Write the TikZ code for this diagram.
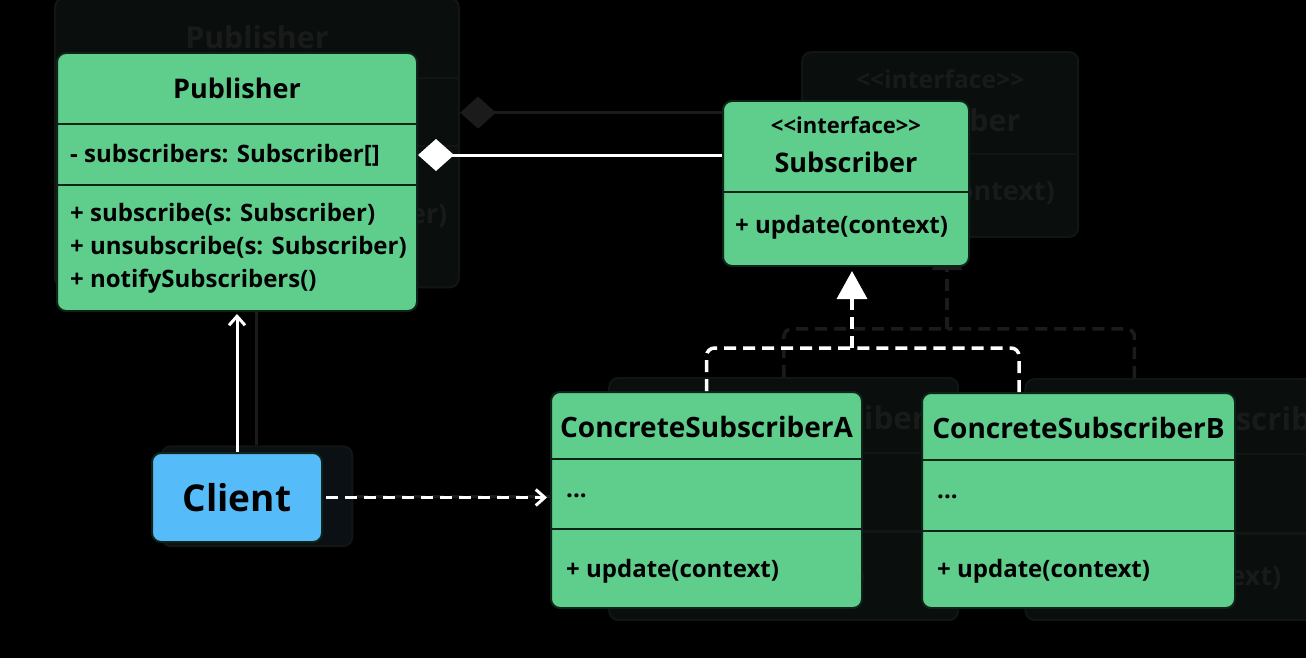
\documentclass[tikz,border=0pt]{standalone}
\usepackage{fontspec}
\setmainfont{Open Sans}
\usetikzlibrary{arrows.meta}

\definecolor{classgreen}{HTML}{5FCD8C}
\definecolor{clientblue}{HTML}{56BCF9}
\definecolor{boxrim}{HTML}{0F2418}
\definecolor{ghostfill}{HTML}{0A0E0D}
\definecolor{ghostblue}{HTML}{0A1013}
\definecolor{ghostrim}{HTML}{111514}
\definecolor{ghostink}{HTML}{181B19}
\definecolor{ghostwire}{HTML}{1B1B1B}

\tikzset{
  classbox/.style={draw=rimcol, line width=2pt, fill=fillcol, rounded corners=9pt, inner sep=0pt},
  clientbox/.style={classbox, fill=clientcol, text=inkcol, font=\bfseries\fontsize{37}{42}\selectfont},
  divider/.style={draw=rimcol, line width=2.5pt},
  classname/.style={text=inkcol, font=\bfseries\fontsize{27}{32}\selectfont, inner sep=0pt},
  concname/.style={classname, font=\bfseries\fontsize{28}{32}\selectfont},
  stereo/.style={text=inkcol, font=\bfseries\fontsize{22}{26}\selectfont, inner sep=0pt},
  member/.style={text=inkcol, font=\bfseries\fontsize{24}{28}\selectfont, inner sep=0pt, anchor=west},
  compose/.style={draw=wirecol, line width=3pt, {Diamond[length=36pt,width=32pt,fill=wirecol]}-},
  realize/.style={draw=wirecol, line width=3.5pt, dash pattern=on 12pt off 7pt, rounded corners=8pt},
  depend/.style={draw=wirecol, line width=3pt, dash pattern=on 12pt off 7pt, -{Straight Barb[length=9pt,width=16pt]}},
  assoc/.style={draw=wirecol, line width=3pt, -{Straight Barb[length=9pt,width=16pt]}},
}

% whole diagram, #1 = prefix for node names
\newcommand{\observerlayer}[1]{%
  % publisher
  \node[classbox, minimum width=360pt, minimum height=258pt] (#1pub) at (237,182) {};
  \draw[divider] (57,124) -- (417,124);
  \draw[divider] (57,185) -- (417,185);
  \node[classname] (#1pub-name) at (237,88) {Publisher};
  \node[member] (#1pub-attr) at (70,155) {- subscribers: Subscriber[]};
  \node[member] (#1pub-sub) at (70,214) {+ subscribe(s: Subscriber)};
  \node[member] (#1pub-unsub) at (70,247) {+ unsubscribe(s: Subscriber)};
  \node[member] (#1pub-notify) at (70,281) {+ notifySubscribers()};
  % subscriber interface
  \node[classbox, minimum width=246pt, minimum height=165pt] (#1sub) at (846,183.5) {};
  \draw[divider] (723,192) -- (969,192);
  \node[stereo] (#1sub-stereo) at (846,125) {{<}{<}interface{>}{>}};
  \node[classname] (#1sub-name) at (846,162) {Subscriber};
  \node[member] (#1sub-update) at (735,227) {+ update(context)};
  % concrete subscribers
  \node[classbox, minimum width=311pt, minimum height=216pt] (#1ca) at (706.5,500) {};
  \draw[divider] (551,459) -- (862,459);
  \draw[divider] (551,529) -- (862,529);
  \node[concname] (#1ca-name) at (706.5,427) {ConcreteSubscriberA};
  \node[member] (#1ca-attr) at (566,496) {...};
  \node[member] (#1ca-update) at (566,571) {+ update(context)};
  \node[classbox, minimum width=313pt, minimum height=215pt] (#1cb) at (1078.5,500.5) {};
  \draw[divider] (922,460) -- (1235,460);
  \draw[divider] (922,531) -- (1235,531);
  \node[concname] (#1cb-name) at (1078.5,428) {ConcreteSubscriberB};
  \node[member] (#1cb-attr) at (937,497) {...};
  \node[member] (#1cb-update) at (937,571) {+ update(context)};
  % client
  \node[clientbox, minimum width=170pt, minimum height=89pt] (#1cli) at (237,497.5) {Client};
  % connectors
  \draw[compose] (#1pub-attr -| #1pub.east) -- (#1pub-attr -| #1sub.west);
  \coordinate (#1join) at (852,348);
  \coordinate (#1bfoot) at (1019,392);
  \draw[realize] (#1ca.north) |- (#1join);
  \draw[realize] (#1cb.north -| #1bfoot) |- (#1join);
  \draw[realize, -{Triangle[length=28pt,width=30pt,fill=wirecol]}, shorten >=4pt] (#1join) -- (#1sub.south -| #1join);
  \draw[assoc, shorten >=2pt] (#1cli.north) -- (#1cli.north |- #1pub.south);
  \draw[depend, shorten <=3pt, shorten >=3pt] (#1cli.east) -- (#1cli.east -| #1ca.west);
}

\begin{document}
\begin{tikzpicture}[x=1pt, y=-1pt]
  \useasboundingbox (0,0) rectangle (1306,658);
  \fill[black] (0,0) rectangle (1306,658);

  % faint enlarged copy behind
  \begin{scope}[xshift=-9pt, yshift=61pt, xscale=1.122, yscale=1.12, transform shape]
    \colorlet{fillcol}{ghostfill}
    \colorlet{clientcol}{ghostblue}
    \colorlet{rimcol}{ghostrim}
    \colorlet{inkcol}{ghostink}
    \colorlet{wirecol}{ghostwire}
    \observerlayer{g-}
  \end{scope}

  \colorlet{fillcol}{classgreen}
  \colorlet{clientcol}{clientblue}
  \colorlet{rimcol}{boxrim}
  \colorlet{inkcol}{black}
  \colorlet{wirecol}{white}
  \observerlayer{}
\end{tikzpicture}
\end{document}
